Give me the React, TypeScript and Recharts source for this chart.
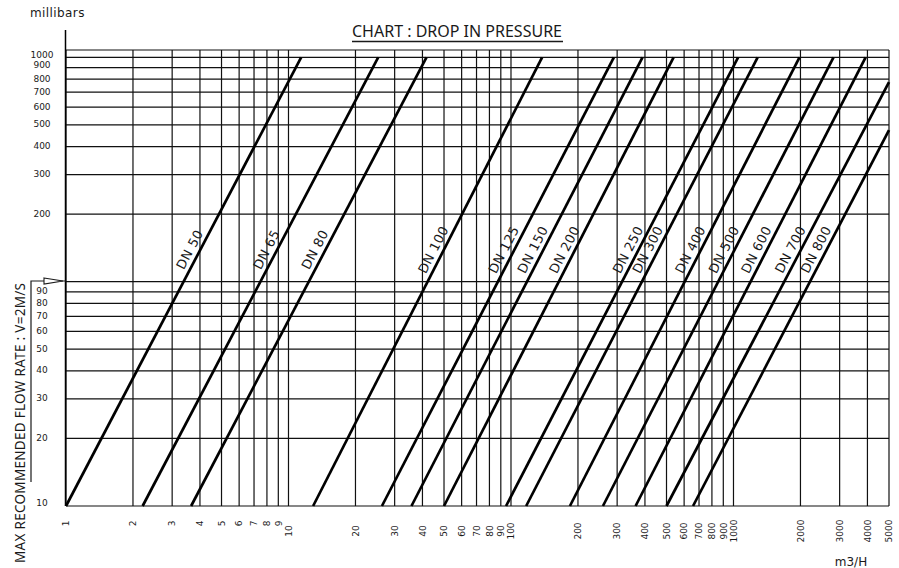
import { LineChart, Line, XAxis, YAxis, CartesianGrid } from "recharts";

// pipe sizes, one straight line each on the log-log grid
const DN_NAMES = [
  "DN 50", "DN 65", "DN 80", "DN 100", "DN 125", "DN 150", "DN 200",
  "DN 250", "DN 300", "DN 400", "DN 500", "DN 600", "DN 700", "DN 800",
];
// flow (m3/H) where each line leaves the 10 mbar line
const FLOW_AT_10 = [1, 2.21, 3.65, 12.9, 26.3, 35.7, 50, 95, 117, 184, 259, 363, 500, 658];
// where each line stops: top of the grid (1000 mbar) or the right edge (5000 m3/H)
const END_FLOW = [11.4, 25.3, 41.7, 138, 290, 390, 538, 1049, 1284, 1980, 2815, 3925, 5000, 5000];
const END_MBAR = [1000, 1000, 1000, 1000, 1000, 1000, 1000, 1000, 1000, 1000, 1000, 1000, 776, 474];

const X_TICKS = [
  1, 2, 3, 4, 5, 6, 7, 8, 9, 10, 20, 30, 40, 50, 60, 70, 80, 90, 100,
  200, 300, 400, 500, 600, 700, 800, 900, 1000, 2000, 3000, 4000, 5000,
];
const Y_TICKS = [10, 20, 30, 40, 50, 60, 70, 80, 90, 100, 200, 300, 400, 500, 600, 700, 800, 900, 1000];
const Y_TOP = 1078; // vertical grid runs a bit above the 1000 line

const W = 899;
const H = 568;
const LABEL_Y = 254;
const FONT = "DejaVu Sans";
const INK = "#1a1a1a";

const series = DN_NAMES.map((name, i) => ({
  name,
  data: [
    { q: FLOW_AT_10[i], p: 10 },
    { q: END_FLOW[i], p: END_MBAR[i] },
  ],
}));

// the DN name is drawn once per line, parallel to it, on its left side
const dnLabel = (name: string) => (props: any) => {
  const { index, points } = props;
  if (index !== 0 || !points || points.length < 2) return <g key={`${name}-${index}`} />;
  const a = points[0];
  const b = points[1];
  const ang = Math.atan2(b.y - a.y, b.x - a.x);
  const t = (LABEL_Y - a.y) / (b.y - a.y);
  const lx = a.x + t * (b.x - a.x);
  const cx = lx + Math.sin(ang) * 9.5;
  const cy = LABEL_Y - Math.cos(ang) * 9.5;
  return (
    <text
      key={`${name}-lbl`}
      x={cx}
      y={cy}
      transform={`rotate(${(ang * 180) / Math.PI} ${cx} ${cy})`}
      textAnchor="middle"
      dominantBaseline="central"
      fontSize={13}
      letterSpacing={0.4}
      fontFamily={FONT}
      fill={INK}
    >
      {name}
    </text>
  );
};

const XTick = (props: any) => {
  const { x, payload } = props;
  const v = payload.value;
  const cy = v < 10 ? 523.5 : 531;
  return (
    <text
      transform={`translate(${x + 3.3} ${cy}) rotate(-90)`}
      textAnchor="middle"
      fontSize={9}
      fontFamily={FONT}
      fill={INK}
    >
      {v}
    </text>
  );
};

const YTick = (props: any) => {
  const { y, payload } = props;
  const v = payload.value;
  if (v === 100) return <g />; // marked by the arrow instead
  const shift = v === 1000 || v === 900 || v === 10 ? 3 : 0.8;
  return (
    <text x={42} y={y + 3.3 - shift} textAnchor="middle" fontSize={9} fontFamily={FONT} fill={INK}>
      {v}
    </text>
  );
};

const App = () => {
  return (
    <div style={{ position: "absolute", left: 0, top: 0, width: W, height: H, background: "#fff" }}>
      <LineChart width={W} height={H} margin={{ top: 50, right: 10, bottom: 0, left: 0 }}>
        <CartesianGrid stroke="#111" strokeWidth={1.2} />
        <XAxis
          dataKey="q"
          type="number"
          scale="log"
          domain={[1, 5000]}
          ticks={X_TICKS}
          interval={0}
          axisLine={false}
          tickLine={false}
          tick={XTick}
          height={62}
        />
        <YAxis
          type="number"
          scale="log"
          domain={[10, Y_TOP]}
          ticks={Y_TICKS}
          interval={0}
          axisLine={false}
          tickLine={false}
          tick={YTick}
          width={66}
        />
        {series.map((s) => (
          <Line
            key={s.name}
            data={s.data}
            dataKey="p"
            type="linear"
            stroke="#000"
            strokeWidth={2.7}
            dot={dnLabel(s.name)}
            activeDot={false}
            isAnimationActive={false}
          />
        ))}
      </LineChart>
      <svg
        width={W}
        height={H}
        style={{ position: "absolute", left: 0, top: 0, pointerEvents: "none" }}
      >
        <text x={30} y={17} fontSize={12} letterSpacing={0.4} fontFamily={FONT} fill={INK}>
          millibars
        </text>
        <text x={457} y={36.7} textAnchor="middle" fontSize={16} fontFamily="Noto Sans" fill={INK}>
          CHART : DROP IN PRESSURE
        </text>
        <line x1={352} x2={563} y1={41.5} y2={41.5} stroke={INK} strokeWidth={1.3} />
        <line x1={65.5} x2={65.5} y1={30} y2={506} stroke="#000" strokeWidth={1.5} />
        <polyline points="31,482 31,281 66,281" fill="none" stroke={INK} strokeWidth={1.2} />
        <polygon points="44,278 63,281 44,284" fill="#fff" stroke={INK} strokeWidth={1.1} />
        <text
          transform="translate(24.5 283) rotate(-90)"
          textAnchor="end"
          fontSize={13.5}
          textLength={280}
          lengthAdjust="spacing"
          fontFamily="Noto Sans"
          fill={INK}
        >
          MAX RECOMMENDED FLOW RATE : V=2M/S
        </text>
        <text x={851} y={566} textAnchor="middle" fontSize={12} fontFamily={FONT} fill={INK}>
          m3/H
        </text>
      </svg>
    </div>
  );
};

export default App;
